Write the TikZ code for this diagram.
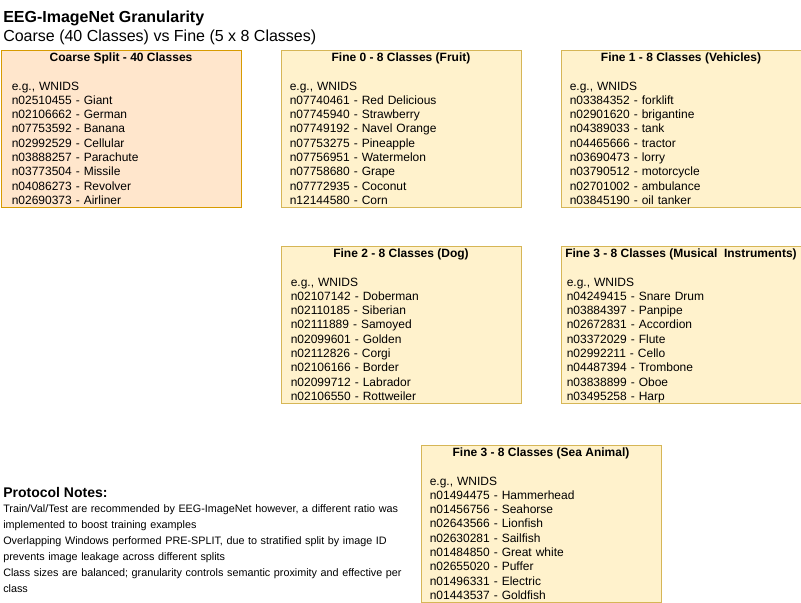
\documentclass[tikz,border=0pt]{standalone}
\usepackage{fontspec}
\setmainfont{Liberation Sans}
\usepackage{xcolor}
\usetikzlibrary{positioning}

\definecolor{coarsefill}{HTML}{FFE6CC}
\definecolor{coarseline}{HTML}{D79B00}
\definecolor{finefill}{HTML}{FFF2CC}
\definecolor{fineline}{HTML}{D6B656}

\tikzset{
  splitbox/.style={draw, line width=0.75pt, minimum width=180pt,
    minimum height=117.75pt, anchor=north west, inner sep=0pt},
  coarsebox/.style={splitbox, fill=coarsefill, draw=coarseline},
  finebox/.style={splitbox, fill=finefill, draw=fineline},
  boxhead/.style={font=\fontsize{9}{10.725}\selectfont\bfseries,
    anchor=base, inner sep=0pt},
  boxlist/.style={font=\fontsize{9}{10.725}\selectfont, text width=170pt,
    align=left, anchor=base west, inner sep=0pt},
}

\begin{document}
\begin{tikzpicture}[x=0.75pt, y=-0.75pt]
      \useasboundingbox (0,0) rectangle (801,603);

      % heading
      \node[anchor=base west, inner sep=0pt,
        font=\fontsize{12}{14}\selectfont\bfseries] (title) at (3,22)
        {EEG-ImageNet Granularity};
      \node[anchor=base west, inner sep=0pt,
        font=\fontsize{12}{14}\selectfont] (subtitle) at (3,41)
        {Coarse (40 Classes) vs Fine (5 x 8 Classes)};

      % coarse split
      \node[coarsebox] (coarse) at (0.5,49.5) {};
      \node[boxhead] (coarsehead) at ([yshift=-9pt]coarse.north)
        {Coarse Split - 40 Classes};
      \node[boxlist] (coarselist) at ([xshift=8.25pt,yshift=-30.375pt]coarse.north west)
        {e.g., WNIDS\\
         n02510455 - Giant\\
         n02106662 - German\\
         n07753592 - Banana\\
         n02992529 - Cellular\\
         n03888257 - Parachute\\
         n03773504 - Missile\\
         n04086273 - Revolver\\
         n02690373 - Airliner};

      % fine 0
      \node[finebox] (fruit) at (280.5,49.5) {};
      \node[boxhead] (fruithead) at ([yshift=-9pt]fruit.north)
        {Fine 0 - 8 Classes (Fruit)};
      \node[boxlist] (fruitlist) at ([xshift=6.75pt,yshift=-30.375pt]fruit.north west)
        {e.g., WNIDS\\
         n07740461 - Red Delicious\\
         n07745940 - Strawberry\\
         n07749192 - Navel Orange\\
         n07753275 - Pineapple\\
         n07756951 - Watermelon\\
         n07758680 - Grape\\
         n07772935 - Coconut\\
         n12144580 - Corn};

      % fine 1
      \node[finebox] (vehicle) at (560.5,49.5) {};
      \node[boxhead] (vehiclehead) at ([yshift=-9pt]vehicle.north)
        {Fine 1 - 8 Classes (Vehicles)};
      \node[boxlist] (vehiclelist) at ([xshift=6.75pt,yshift=-30.375pt]vehicle.north west)
        {e.g., WNIDS\\
         n03384352 - forklift\\
         n02901620 - brigantine\\
         n04389033 - tank\\
         n04465666 - tractor\\
         n03690473 - lorry\\
         n03790512 - motorcycle\\
         n02701002 - ambulance\\
         n03845190 - oil tanker};

      % fine 2
      \node[finebox] (dog) at (280.5,245.5) {};
      \node[boxhead] (doghead) at ([yshift=-9pt]dog.north)
        {Fine 2 - 8 Classes (Dog)};
      \node[boxlist] (doglist) at ([xshift=7.5pt,yshift=-30.375pt]dog.north west)
        {e.g., WNIDS\\
         n02107142 - Doberman\\
         n02110185 - Siberian\\
         n02111889 - Samoyed\\
         n02099601 - Golden\\
         n02112826 - Corgi\\
         n02106166 - Border\\
         n02099712 - Labrador\\
         n02106550 - Rottweiler};

      % fine 3
      \node[finebox] (music) at (560.5,245.5) {};
      \node[boxhead] (musichead) at ([yshift=-9pt]music.north)
        {Fine 3 - 8 Classes (Musical\ \ Instruments)};
      \node[boxlist] (musiclist) at ([xshift=4.5pt,yshift=-30.375pt]music.north west)
        {e.g., WNIDS\\
         n04249415 - Snare Drum\\
         n03884397 - Panpipe\\
         n02672831 - Accordion\\
         n03372029 - Flute\\
         n02992211 - Cello\\
         n04487394 - Trombone\\
         n03838899 - Oboe\\
         n03495258 - Harp};

      % fine 3, sea animals
      \node[finebox] (sea) at (420.5,444.5) {};
      \node[boxhead] (seahead) at ([yshift=-9pt]sea.north)
        {Fine 3 - 8 Classes (Sea Animal)};
      \node[boxlist] (sealist) at ([xshift=6.75pt,yshift=-30.375pt]sea.north west)
        {e.g., WNIDS\\
         n01494475 - Hammerhead\\
         n01456756 - Seahorse\\
         n02643566 - Lionfish\\
         n02630281 - Sailfish\\
         n01484850 - Great white\\
         n02655020 - Puffer\\
         n01496331 - Electric\\
         n01443537 - Goldfish};

      % notes
      \node[anchor=base west, inner sep=0pt,
        font=\fontsize{10.5}{12}\selectfont\bfseries] (noteshead) at (3,497)
        {Protocol Notes:};
      \node[anchor=base west, inner sep=0pt, text width=320pt, align=left,
        font=\fontsize{8.1}{12}\selectfont] (notes) at (3,512)
        {Train/Val/Test are recommended by EEG-ImageNet however, a different ratio was\\
         implemented to boost training examples\\
         Overlapping Windows performed PRE-SPLIT, due to stratified split by image ID\\
         prevents image leakage across different splits\\
         Class sizes are balanced; granularity controls semantic proximity and effective per\\
         class};
\end{tikzpicture}
\end{document}
